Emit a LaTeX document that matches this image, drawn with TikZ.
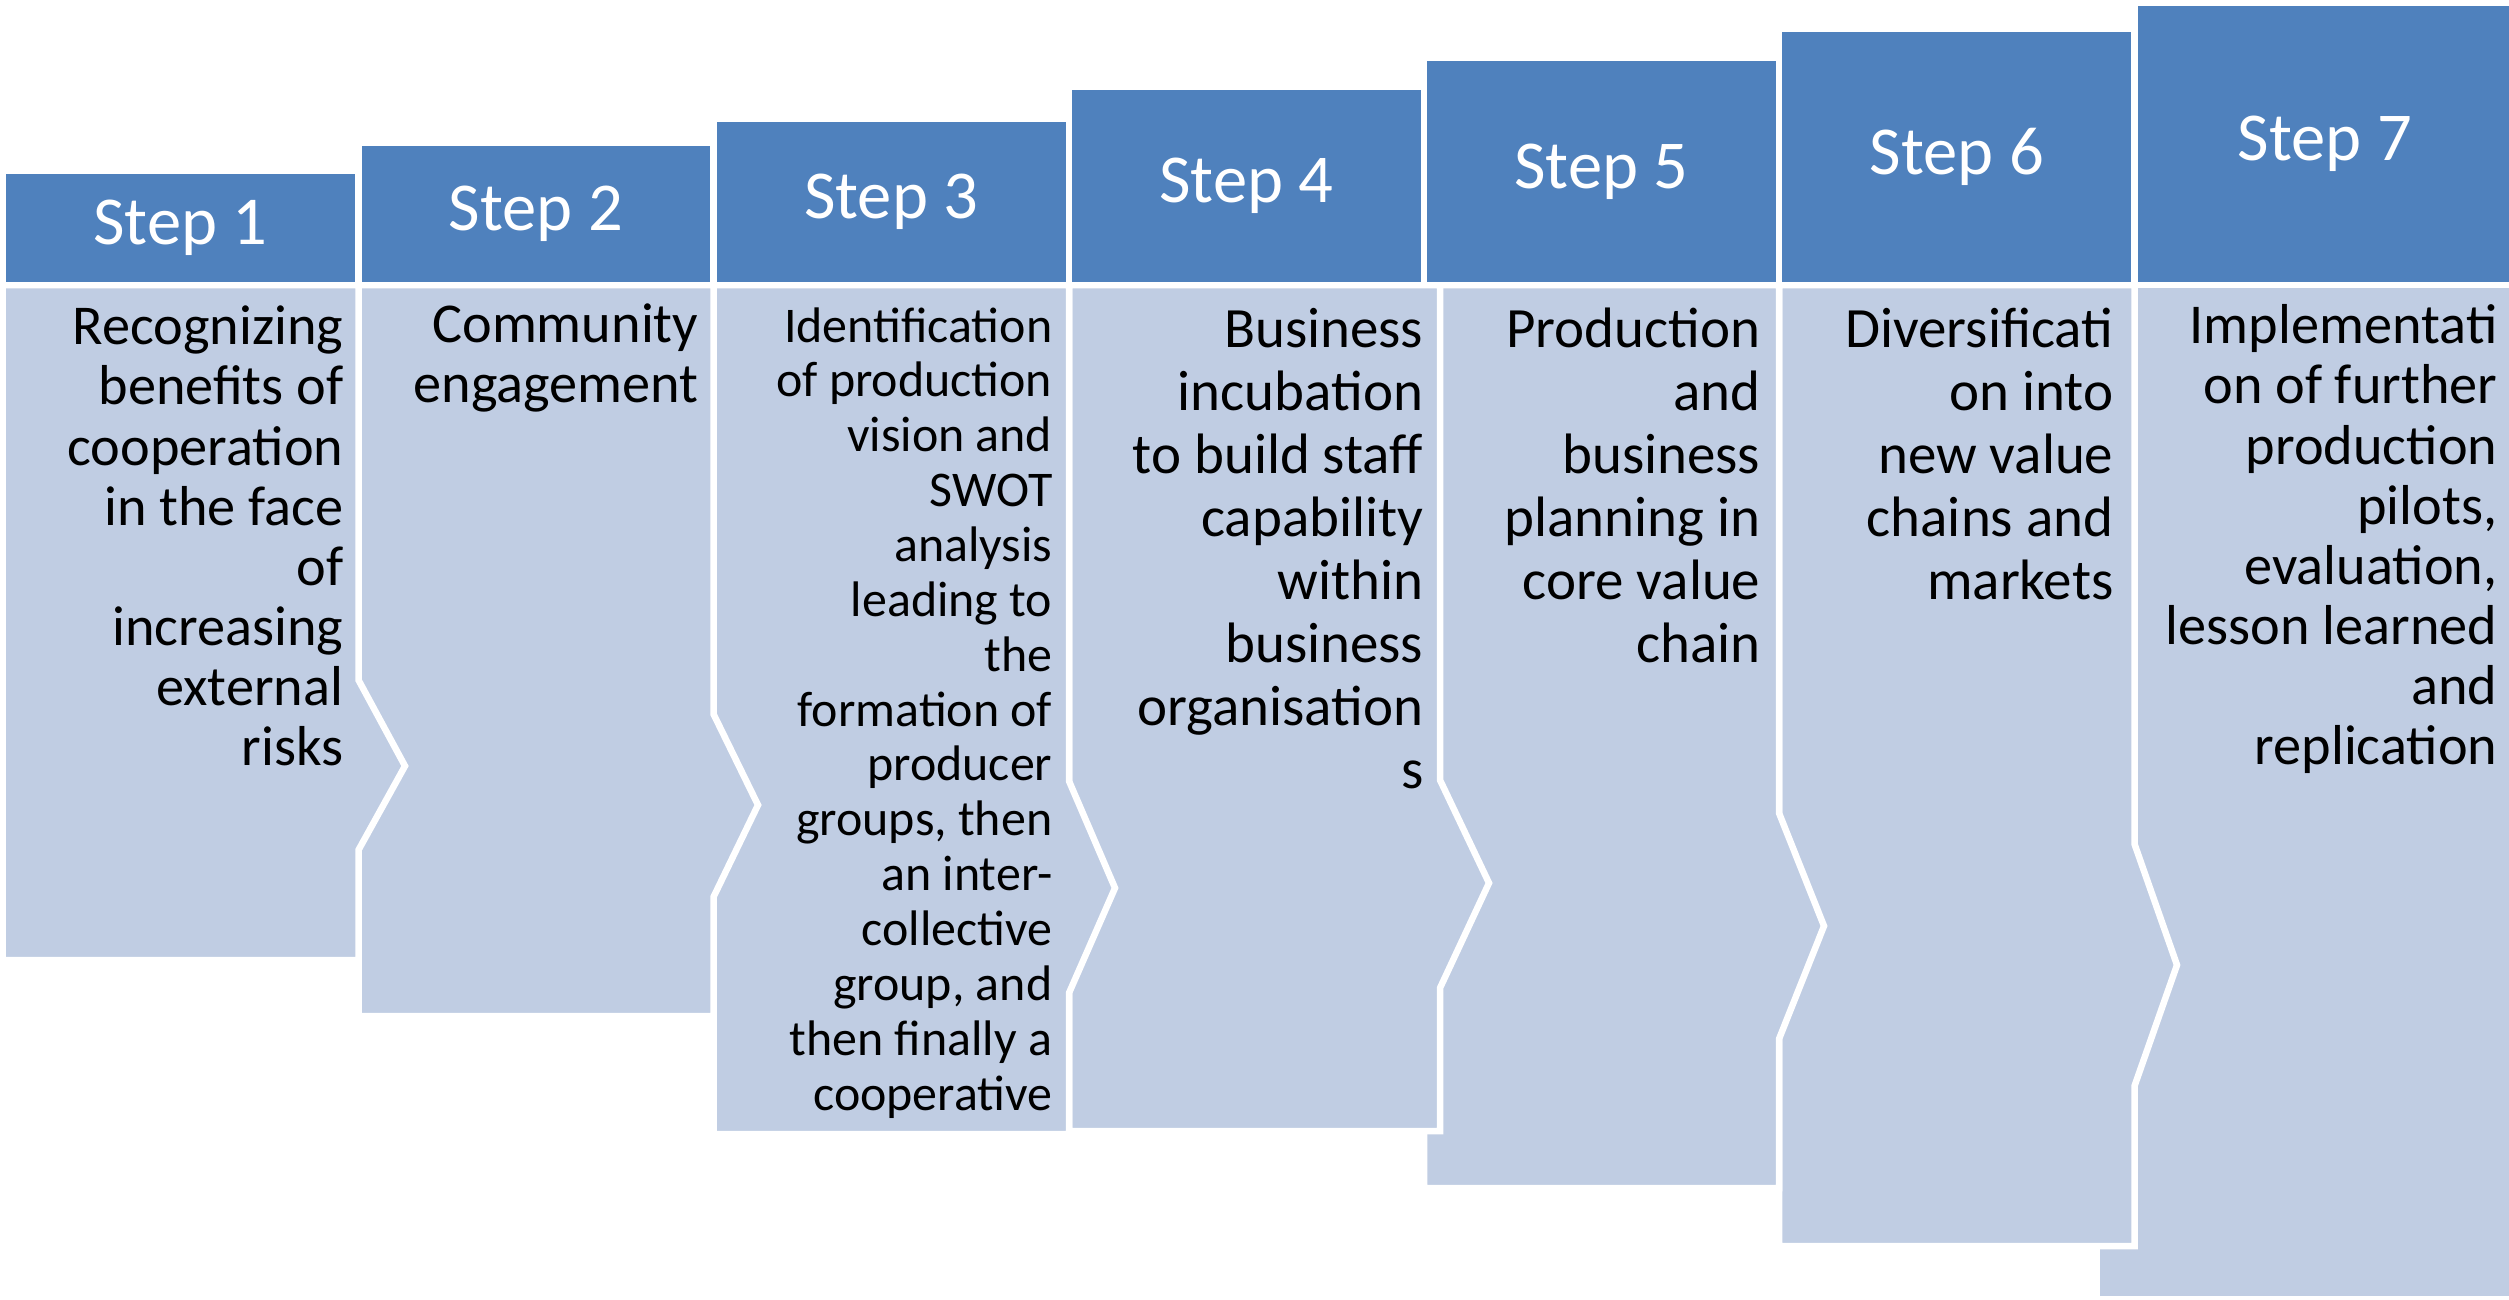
\documentclass[tikz,border=0pt]{standalone}
\usepackage{fontspec}
\setmainfont{Carlito}
\definecolor{stepblue}{RGB}{79,129,189}
\definecolor{steplight}{RGB}{192,205,227}
\tikzset{
  head/.style={fill=stepblue, draw=white, line width=1.85pt},
  panel/.style={fill=steplight, draw=white, line width=1.85pt, line join=miter},
  headtext/.style={text=white, inner sep=0pt, font=\fontsize{19.5}{23}\selectfont},
  bodytext/.style={anchor=north east, align=right, inner sep=0pt, font=\fontsize{16}{17.1}\selectfont},
}

\begin{document}
\begin{tikzpicture}[x=0.01cm, y=-0.01cm]
  \useasboundingbox (0,0) rectangle (2509,1300);
  \clip (0,0) rectangle (2509,1300);

  % bodies, last step first so each arrow tip lies on the next one
  \draw[panel] (2097,285) -- (2515,285) -- (2515,1299) -- (2097,1299) -- cycle;
  \foreach \lx/\rx/\by/\ya/\tipx/\tipy/\yb in {
      1779/2134.5/1246/844/2177/965/1086,
      1424/1779/1188/813/1824/926/1039,
      1069/1440/1131/780/1489/883/988,
      713.5/1069/1134/781/1115/888/993,
      358.5/713.5/1016/714/758/805/897,
      2.5/358.5/960/680/405/766/850}
    \draw[panel] (\lx,285) -- (\rx,285) -- (\rx,\ya) -- (\tipx,\tipy)
      -- (\rx,\yb) -- (\rx,\by) -- (\lx,\by) -- cycle;

  % headers
  \foreach \n/\lx/\rx/\ty in {1/2.5/358.5/171, 2/358.5/713.5/143, 3/713.5/1069/119,
      4/1069/1424/87, 5/1424/1779/58, 6/1779/2134.5/29, 7/2134.5/2515/3} {
    \draw[head] (\lx,\ty) rectangle (\rx,285);
    \node[headtext] (h\n) at ({(\lx+\rx)/2},{(\ty+285)/2}) {Step \n};
  }

  % texts
  \node[bodytext] (t1) at (344,302) {\strut Recognizing\\benefits of\\cooperation\\in the face\\of\\increasing\\external\\risks};
  \node[bodytext] (t2) at (699,300) {\strut Community\\engagement};
  \node[bodytext, font=\fontsize{14.2}{15.6}\selectfont] (t3) at (1053,303)
    {\strut Identification\\of production\\vision and\\SWOT\\analysis\\leading to\\the\\formation of\\producer\\groups, then\\an inter-\\collective\\group, and\\then finally a\\cooperative};
  \node[bodytext, font=\fontsize{16.2}{17.9}\selectfont] (t4) at (1424,303)
    {\strut Business\\incubation\\to build staff\\capability\\within\\business\\organisation\\s};
  \node[bodytext, font=\fontsize{16.2}{17.9}\selectfont] (t5) at (1761,303)
    {\strut Production\\and\\business\\planning in\\core value\\chain};
  \node[bodytext, font=\fontsize{16.2}{17.9}\selectfont] (t6) at (2114,303)
    {\strut Diversificati\\on into\\new value\\chains and\\markets};
  \node[bodytext] (t7) at (2498,301)
    {\strut Implementati\\on of further\\production\\pilots,\\evaluation,\\lesson learned\\and\\replication};
\end{tikzpicture}
\end{document}
